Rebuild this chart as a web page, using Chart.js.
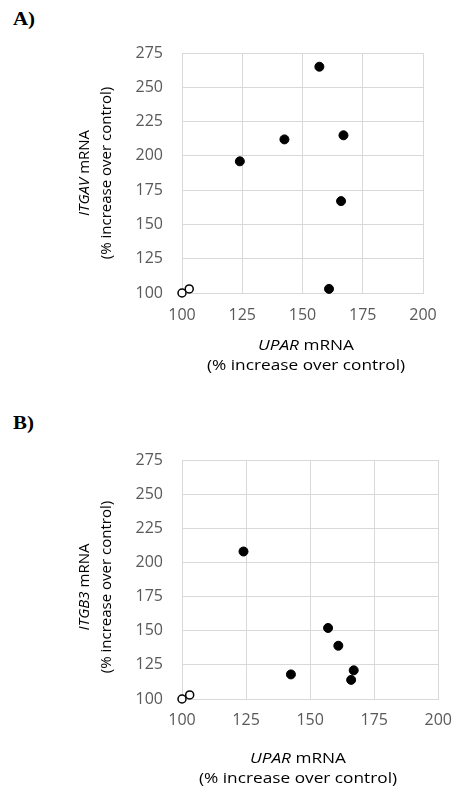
<!DOCTYPE html>
<html>
<head>
<meta charset="utf-8">
<script src="https://cdn.jsdelivr.net/npm/chart.js@4/dist/chart.umd.min.js"></script>
<style>
  body { margin: 0; background: #fff; }
  .page { position: relative; width: 452px; height: 787px; overflow: hidden; }
  .panel-label { position: absolute; left: 13px; font: bold 19px "Liberation Serif", serif; color: #000; transform: scaleX(1.1); transform-origin: left center; }
  .box { position: absolute; left: 0; width: 452px; }
  .xtitle { position: absolute; width: 300px; text-align: center; font: 15px "Open Sans", sans-serif; line-height: 20px; color: #000; transform: scaleX(1.15); transform-origin: center center; }
  .ytitle { position: absolute; width: 240px; text-align: center; font: 15px "Open Sans", sans-serif; line-height: 22px; color: #000; transform: rotate(-90deg); transform-origin: center center; }
</style>
</head>
<body>
<div class="page">
  <div class="panel-label" style="top:8px">A)</div>
  <div class="box" style="top:0;height:380px"><canvas id="chartA"></canvas></div>
  <div class="ytitle" style="left:-26px;top:151px"><i>ITGAV</i> mRNA<br>(% increase over control)</div>
  <div class="xtitle" style="left:156px;top:334px"><i>UPAR</i> mRNA<br>(% increase over control)</div>

  <div class="panel-label" style="top:412px">B)</div>
  <!-- B is wider than the page: its last x label runs off the right edge like the reference -->
  <div class="box" style="top:380px;height:407px;width:464px"><canvas id="chartB"></canvas></div>
  <div class="ytitle" style="left:-26px;top:565px"><i>ITGB3</i> mRNA<br>(% increase over control)</div>
  <div class="xtitle" style="left:148px;top:747px"><i>UPAR</i> mRNA<br>(% increase over control)</div>
</div>
<script>
// axis ticks
const xTicks = [100, 125, 150, 175, 200];
const yTicks = [100, 125, 150, 175, 200, 225, 250, 275];

// controls (open circles)
const uparControl = [100, 103];
const itgavControl = [100, 103];
const itgb3Control = [100, 103];

// treated samples (filled circles), same UPAR values in both panels
const uparTreated = [124, 142.5, 157, 161, 166, 167];
const itgavTreated = [196, 212, 265, 103, 167, 215];
const itgb3Treated = [208, 118, 152, 139, 114, 121];

const gridColor = "#d9d9d9";
const tickColor = "#595959";

function points(xs, ys) {
  return xs.map((x, i) => ({ x: x, y: ys[i] }));
}

function makeChart(id, yControl, yTreated, box) {
  const ctx = document.getElementById(id).getContext('2d');
  return new Chart(ctx, {
    type: "scatter",
    data: {
      datasets: [
        {
          label: "treated",
          data: points(uparTreated, yTreated),
          backgroundColor: "#000",
          borderColor: "#000",
          pointRadius: 4.5,
          pointHoverRadius: 4.5,
          clip: false,
        },
        {
          label: "control",
          data: points(uparControl, yControl),
          backgroundColor: "#fff",
          borderColor: "#000",
          borderWidth: 1.5,
          pointRadius: 4,
          pointHoverRadius: 4,
          clip: false,
        },
      ],
    },
    options: {
      responsive: true,
      maintainAspectRatio: false,
      animation: false,
      layout: {
        padding: { left: 0, right: box.right, top: box.top, bottom: box.bottom },
      },
      plugins: {
        legend: { display: false },
        tooltip: { enabled: false },
      },
      scales: {
        x: {
          type: "linear",
          min: xTicks[0],
          max: xTicks[xTicks.length - 1],
          afterBuildTicks: (axis) => { axis.ticks = xTicks.map(v => ({ value: v })); },
          afterFit: (axis) => { axis.height = 30; },
          grid: { color: gridColor, drawTicks: false },
          border: { color: gridColor },
          ticks: {
            padding: box.xPad,
            color: tickColor,
            font: { family: "Open Sans", size: 16 },
          },
        },
        y: {
          type: "linear",
          min: yTicks[0],
          max: yTicks[yTicks.length - 1],
          afterBuildTicks: (axis) => { axis.ticks = yTicks.map(v => ({ value: v })); },
          afterFit: (axis) => { axis.width = 182; },
          grid: { color: gridColor, drawTicks: false },
          border: { color: gridColor },
          ticks: {
            padding: 19,
            color: tickColor,
            font: { family: "Open Sans", size: 16 },
          },
        },
      },
    },
  });
}

// chart areas: A -> 182..423 x 53..293, B -> 182..437 x 80..319 (inside its box)
makeChart("chartA", itgavControl, itgavTreated, { right: 29, top: 53, bottom: 57, xPad: 13 });
makeChart("chartB", itgb3Control, itgb3Treated, { right: 0, top: 80, bottom: 58, xPad: 12 });
</script>
</body>
</html>
